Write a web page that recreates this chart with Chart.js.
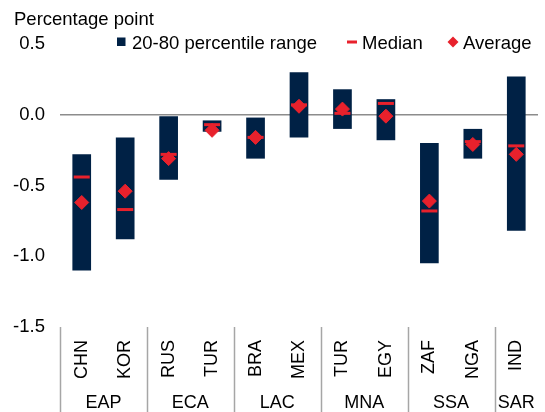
<!DOCTYPE html>
<html>
<head>
<meta charset="utf-8">
<script src="https://cdn.jsdelivr.net/npm/chart.js@4.4.1/dist/chart.umd.min.js"></script>
<style>
  html, body { margin: 0; padding: 0; background: #fff; overflow: hidden; }
  #wrap { position: relative; width: 549px; height: 412px; }
</style>
</head>
<body>
<div id="wrap"><canvas id="spreadChart"></canvas></div>
<script>
// Countries, grouped by region (regionSpans = number of countries per region)
const countries = ['CHN', 'KOR', 'RUS', 'TUR', 'BRA', 'MEX', 'TUR', 'EGY', 'ZAF', 'NGA', 'IND'];
const regions = ['EAP', 'ECA', 'LAC', 'MNA', 'SSA', 'SAR'];
const regionSpans = [2, 2, 2, 2, 2, 1];

// 20th / 80th percentile, median and average, percentage points
const rangeLow = [-1.10, -0.88, -0.46, -0.12, -0.31, -0.16, -0.10, -0.18, -1.05, -0.31, -0.82];
const rangeHigh = [-0.28, -0.16, -0.01, -0.04, -0.02, 0.30, 0.18, 0.11, -0.20, -0.10, 0.27];
const medians = [-0.44, -0.67, -0.28, -0.07, -0.16, 0.07, 0.01, 0.08, -0.68, -0.19, -0.22];
const averages = [-0.62, -0.54, -0.31, -0.11, -0.16, 0.06, 0.04, -0.01, -0.61, -0.21, -0.28];

const yMin = -1.5, yMax = 0.5, yStep = 0.5;

const NAVY = '#002145';
const RED = '#e8212c';
const FONT = '"Liberation Sans", Arial, sans-serif';

Chart.defaults.font.family = FONT;
Chart.defaults.color = '#000';

// Title, legend, region separators and region names
const decorations = {
  id: 'decorations',
  afterDraw(chart) {
    const { ctx, chartArea } = chart;
    const xs = chart.scales.x;
    ctx.save();
    ctx.font = '18.5px ' + FONT;
    ctx.fillStyle = '#000';
    ctx.textBaseline = 'alphabetic';
    ctx.textAlign = 'left';
    ctx.fillText('Percentage point', 14, 25);

    // legend
    ctx.fillStyle = NAVY;
    ctx.fillRect(117, 37.5, 8.5, 8.5);
    ctx.fillStyle = RED;
    ctx.fillRect(347, 40.5, 10, 3);
    ctx.beginPath();
    ctx.moveTo(453, 36.5);
    ctx.lineTo(458.5, 42);
    ctx.lineTo(453, 47.5);
    ctx.lineTo(447.5, 42);
    ctx.closePath();
    ctx.fill();
    ctx.fillStyle = '#000';
    ctx.fillText('20-80 percentile range', 132, 48.5);
    ctx.fillText('Median', 362, 48.5);
    ctx.fillText('Average', 463, 48.5);

    // region separators below the plot + region names
    ctx.strokeStyle = '#a6a6a6';
    ctx.lineWidth = 1.5;
    ctx.font = '18px ' + FONT;
    ctx.textAlign = 'center';
    let start = 0;
    regions.forEach((name, g) => {
      const end = start + regionSpans[g];
      const left = xs.getPixelForValue(start - 0.5);
      const right = xs.getPixelForValue(end - 0.5);
      ctx.beginPath();
      ctx.moveTo(Math.round(left) + 0.5, chartArea.bottom);
      ctx.lineTo(Math.round(left) + 0.5, chart.height);
      ctx.stroke();
      ctx.fillText(name, (left + right) / 2, 408);
      start = end;
    });
    ctx.restore();
  }
};

new Chart(document.getElementById('spreadChart'), {
  type: 'bar',
  data: {
    labels: countries,
    datasets: [
      {
        type: 'bar',
        label: '20-80 percentile range',
        data: rangeLow.map((lo, i) => [lo, rangeHigh[i]]),
        backgroundColor: NAVY,
        barPercentage: 0.43,
        categoryPercentage: 1,
        order: 3
      },
      {
        type: 'line',
        label: 'Median',
        data: medians,
        showLine: false,
        pointStyle: 'line',
        pointRadius: 8,
        pointBorderWidth: 3,
        pointBorderColor: RED,
        borderColor: RED,
        order: 2
      },
      {
        type: 'line',
        label: 'Average',
        data: averages,
        showLine: false,
        pointStyle: 'rectRot',
        pointRadius: 7,
        pointBorderWidth: 1,
        pointBackgroundColor: RED,
        pointBorderColor: RED,
        order: 1
      }
    ]
  },
  options: {
    responsive: true,
    maintainAspectRatio: false,
    animation: false,
    layout: { padding: { top: 44, left: 0, right: 0, bottom: 0 } },
    plugins: {
      legend: { display: false },
      tooltip: { enabled: false }
    },
    scales: {
      x: {
        offset: true,
        grid: { display: false },
        border: { display: false },
        ticks: {
          font: { size: 18 },
          color: '#000',
          minRotation: 90,
          maxRotation: 90,
          padding: 5,
          autoSkip: false
        },
        afterFit(scale) {
          scale.height = 85;
          scale.paddingLeft = 0;
          scale.paddingRight = 0;
        }
      },
      y: {
        min: yMin,
        max: yMax,
        grid: {
          drawTicks: false,
          color: (c) => (c.tick && c.tick.value === 0 ? '#8c8c8c' : 'rgba(0,0,0,0)'),
          lineWidth: 1.5
        },
        border: { display: false },
        ticks: {
          stepSize: yStep,
          padding: 15,
          font: { size: 18.5 },
          color: '#000',
          callback: (v) => v.toFixed(1)
        },
        afterFit(scale) {
          scale.width = 60;
        }
      }
    }
  },
  plugins: [decorations]
});
</script>
</body>
</html>
